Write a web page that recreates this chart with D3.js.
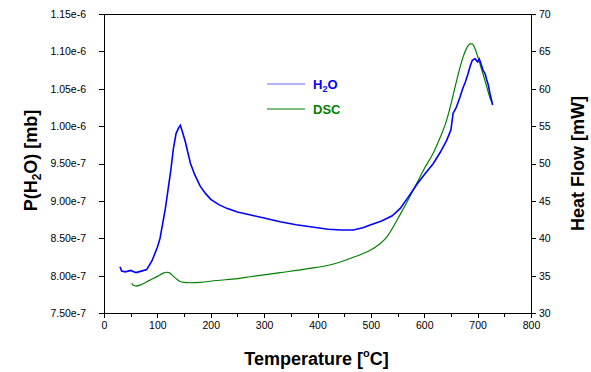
<!DOCTYPE html>
<html>
<head>
<meta charset="utf-8">
<script src="https://cdn.jsdelivr.net/npm/d3@7.9.0/dist/d3.min.js"></script>
<style>
  body { margin: 0; background: #fff; }
  svg { display: block; font-family: "Liberation Sans", Arial, sans-serif; }
  .tick text { font-size: 10.5px; fill: #000; }
  .axis-title { font-size: 18px; font-weight: bold; }
</style>
</head>
<body>
<svg width="591" height="372"></svg>
<script>
// H2O partial pressure (left axis)
const h2oTemp = [30, 33, 40, 50, 60, 70, 80, 90, 100, 105, 110, 115, 120, 125, 130, 135, 140, 143, 147, 152,
  157, 162, 170, 180, 190, 200, 215, 230, 250, 275, 300, 330, 360, 390, 420, 445, 467, 485, 500, 520,
  540, 555, 570, 586, 600, 617, 630, 642, 650, 654, 660, 667, 672, 677, 682, 686, 690, 695, 700, 703,
  706, 710, 714, 717, 720, 723, 726, 728];
const h2oP = [8.12e-7, 8.06e-7, 8.05e-7, 8.07e-7, 8.04e-7, 8.06e-7, 8.08e-7, 8.20e-7, 8.38e-7, 8.50e-7,
  8.70e-7, 8.90e-7, 9.15e-7, 9.40e-7, 9.70e-7, 9.90e-7, 9.98e-7, 1.001e-6, 9.92e-7, 9.80e-7,
  9.65e-7, 9.50e-7, 9.35e-7, 9.20e-7, 9.10e-7, 9.02e-7, 8.95e-7, 8.90e-7, 8.85e-7, 8.81e-7,
  8.77e-7, 8.72e-7, 8.68e-7, 8.65e-7, 8.62e-7, 8.61e-7, 8.61e-7, 8.64e-7, 8.68e-7, 8.73e-7,
  8.80e-7, 8.90e-7, 9.05e-7, 9.22e-7, 9.35e-7, 9.50e-7, 9.65e-7, 9.81e-7, 9.95e-7, 1.017e-6,
  1.025e-6, 1.039e-6, 1.050e-6, 1.059e-6, 1.070e-6, 1.080e-6, 1.088e-6, 1.090e-6, 1.086e-6, 1.090e-6,
  1.084e-6, 1.075e-6, 1.070e-6, 1.062e-6, 1.055e-6, 1.044e-6, 1.035e-6, 1.028e-6];

// DSC heat flow (right axis)
const dscTemp = [52, 55, 60, 70, 86, 100, 110, 117, 122, 127, 135, 142, 150, 161, 180, 211, 250, 274, 330, 380,
  430, 467, 505, 530, 555, 573, 586, 600, 617, 630, 642, 652, 661, 673, 680, 686, 690, 695, 704, 710,
  717, 723, 728];
const dscHeat = [33.97, 33.7, 33.6, 33.8, 34.4, 34.9, 35.3, 35.45, 35.4, 35.1, 34.6, 34.25, 34.1, 34.05, 34.1, 34.35, 34.6, 34.85, 35.4, 35.9,
  36.55, 37.45, 38.65, 40.2, 43.2, 45.55, 47.35, 49.3, 51.4, 53.5, 55.8, 58.5, 61.2, 64.3, 65.5, 66.0, 66.0, 65.4, 63.4, 62.0,
  60.3, 58.8, 58.0];

const tempTicks = [0, 100, 200, 300, 400, 500, 600, 700, 800];
const tempMinor = [50, 150, 250, 350, 450, 550, 650, 750];
const pTicks = [7.5e-7, 8.0e-7, 8.5e-7, 9.0e-7, 9.5e-7, 1.0e-6, 1.05e-6, 1.10e-6, 1.15e-6];
const heatTicks = [30, 35, 40, 45, 50, 55, 60, 65, 70];

const m = { left: 104, top: 14, right: 60, bottom: 59 };
const W = 591, H = 372;
const w = W - m.left - m.right, h = H - m.top - m.bottom;

const svg = d3.select('svg');
const g = svg.append('g').attr('transform', `translate(${m.left},${m.top})`);

const x = d3.scaleLinear().domain([0, 800]).range([0, w]);
const yP = d3.scaleLinear().domain([7.5e-7, 1.15e-6]).range([h, 0]);
const yH = d3.scaleLinear().domain([30, 70]).range([h, 0]);

function sci(v) {
  let e = Math.floor(Math.log10(v) + 1e-9);
  let mant = v / Math.pow(10, e);
  return mant.toFixed(2) + 'e' + e;
}

// top frame line
g.append('line').attr('x1', 0).attr('x2', w).attr('y1', 0).attr('y2', 0)
  .attr('stroke', '#000').attr('shape-rendering', 'crispEdges');

g.append('g').attr('transform', `translate(0,${h})`)
  .call(d3.axisBottom(x).tickValues(tempTicks).tickSize(5).tickPadding(4).tickFormat(d3.format('d')));
g.append('g').attr('transform', `translate(0,${h})`)
  .call(d3.axisBottom(x).tickValues(tempMinor).tickSize(4).tickFormat(''))
  .select('.domain').remove();

g.append('g')
  .call(d3.axisLeft(yP).tickValues(pTicks).tickSize(5).tickPadding(13).tickFormat(sci));

g.append('g').attr('transform', `translate(${w},0)`)
  .call(d3.axisRight(yH).tickValues(heatTicks).tickSize(5).tickPadding(3));

svg.selectAll('.domain').attr('shape-rendering', 'crispEdges');
svg.selectAll('.tick line').attr('shape-rendering', 'crispEdges');

// curves
const h2oData = h2oTemp.map((t, i) => [t, h2oP[i]]);
const dscData = dscTemp.map((t, i) => [t, dscHeat[i]]);

g.append('path').datum(dscData)
  .attr('fill', 'none').attr('stroke', '#008000').attr('stroke-width', 1.2)
  .attr('d', d3.line().x(d => x(d[0])).y(d => yH(d[1])).curve(d3.curveMonotoneX));

g.append('path').datum(h2oData)
  .attr('fill', 'none').attr('stroke', '#0000ff').attr('stroke-width', 1.6)
  .attr('d', d3.line().x(d => x(d[0])).y(d => yP(d[1])));

// legend
const leg = svg.append('g');
leg.append('line').attr('x1', 267).attr('x2', 305).attr('y1', 84).attr('y2', 84)
  .attr('stroke', '#6666ff').attr('stroke-width', 1.2);
const t1 = leg.append('text').attr('x', 313).attr('y', 89)
  .attr('fill', '#0000ff').attr('font-weight', 'bold').attr('font-size', 13);
t1.append('tspan').text('H');
t1.append('tspan').attr('dy', 3).attr('font-size', 9).text('2');
t1.append('tspan').attr('dy', -3).text('O');

leg.append('line').attr('x1', 267).attr('x2', 305).attr('y1', 109).attr('y2', 109)
  .attr('stroke', '#008000').attr('stroke-width', 1.2);
leg.append('text').attr('x', 313).attr('y', 114)
  .attr('fill', '#008000').attr('font-weight', 'bold').attr('font-size', 13).text('DSC');

// axis titles
const xt = svg.append('text').attr('class', 'axis-title')
  .attr('x', m.left + w / 2 - 1).attr('y', 365).attr('text-anchor', 'middle');
xt.append('tspan').text('Temperature [');
xt.append('tspan').attr('dy', -8).attr('font-size', 11).text('o');
xt.append('tspan').attr('dy', 8).text('C]');

const yt = svg.append('text').attr('class', 'axis-title')
  .attr('transform', `translate(37,${m.top + h / 2 - 3}) rotate(-90)`).attr('text-anchor', 'middle');
yt.append('tspan').text('P(H');
yt.append('tspan').attr('dy', 4).attr('font-size', 12).text('2');
yt.append('tspan').attr('dy', -4).text('O) [mb]');

svg.append('text').attr('class', 'axis-title')
  .attr('transform', `translate(584,${m.top + h / 2}) rotate(-90)`).attr('text-anchor', 'middle')
  .text('Heat Flow [mW]');
</script>
</body>
</html>
